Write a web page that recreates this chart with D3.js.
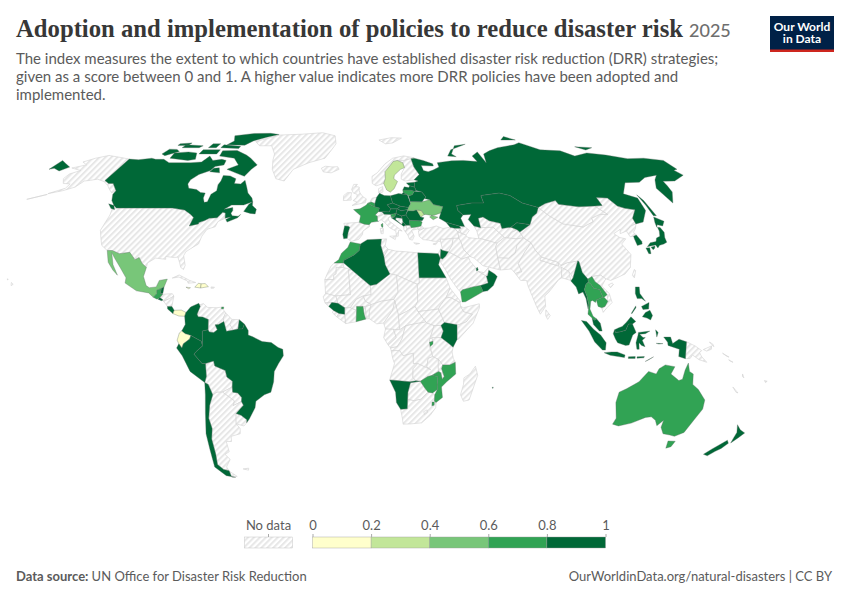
<!DOCTYPE html>
<html>
<head>
<meta charset="utf-8">
<script src="https://cdnjs.cloudflare.com/ajax/libs/d3/7.9.0/d3.min.js"></script>
<style>
  body { margin: 0; background: #fff; }
  text { font-family: Lato, sans-serif; }
</style>
</head>
<body>
<svg id="map-chart" width="850" height="600"></svg>
<script>
// score per country (one value per country)
const scoreCountries = ["Canada","Brazil","French Guiana","Colombia","Peru","Chile","Russia","Kazakhstan","Kyrgyzstan","Georgia","Germany","Poland","Czechia","Austria","Hungary","Slovakia","Romania","Serbia","Croatia","Montenegro","Belarus","Latvia","Estonia","Portugal","Algeria","Egypt","Jordan","Qatar","Oman","Guinea","Kenya","Namibia","Mauritius","Myanmar","Japan","South Korea","Indonesia","Malaysia","Philippines","New Zealand","Costa Rica","El Salvador","Belize",
  "France","Belgium","Slovenia","Bulgaria","Lithuania","Morocco","Yemen","Ghana","Burundi","Zimbabwe","Mozambique","Eswatini","Thailand","Laos","Cambodia","Australia","Guatemala","Trinidad",
  "Mexico","Ukraine",
  "Sweden","Moldova",
  "Ecuador","Panama","Haiti","Dominican Republic","Jamaica"];
const scoreValues = [0.91,0.88,0.82,0.85,0.84,0.9,0.87,0.86,0.83,0.82,0.9,0.89,0.85,0.84,0.83,0.82,0.88,0.81,0.82,0.83,0.86,0.82,0.84,0.87,0.9,0.89,0.83,0.81,0.86,0.82,0.87,0.85,0.81,0.84,0.92,0.9,0.88,0.86,0.89,0.91,0.83,0.82,0.81,
  0.75,0.65,0.7,0.72,0.68,0.74,0.66,0.71,0.63,0.69,0.72,0.64,0.76,0.67,0.62,0.78,0.73,0.66,
  0.55,0.48,
  0.33,0.28,
  0.15,0.12,0.1,0.18,0.16];

// rough country outlines, as lists of [lon, lat] rings
const outlines = {
  "Canada": [
    [[-141,69.6],[-135,69.3],[-128,70],[-125,69.5],[-120,69.5],[-115,68],[-108,68],[-102,68],[-96,68.3],[-94,71],[-90,69],[-85,69.5],[-82,69],[-81.5,67],[-86,66.3],[-87,64.5],[-92,62.8],[-94.5,60.5],[-94.5,58.8],[-92.5,57],[-88,56.5],[-85,55.3],[-82.3,55],[-82,53],[-80.5,51.3],[-79,51.5],[-79,54.5],[-77,56],[-78,58.5],[-77.5,60],[-78,62.4],[-74,62.2],[-70,61],[-69.5,59],[-66,58.8],[-64.5,60.3],[-62,57.5],[-60,55],[-57,53],[-56,51.5],[-60,50.2],[-66,50.2],[-69,48.5],[-65,49.2],[-64.5,48],[-65,47],[-64,46],[-61,45.8],[-60,46.5],[-61,45.2],[-65.5,43.5],[-66.5,44.5],[-64.5,45.5],[-67,45],[-67.8,47.1],[-69.2,47.4],[-71,45.2],[-74.7,45],[-76.5,44.1],[-79,43.3],[-79,42.8],[-83,42],[-82.5,45.3],[-84.5,46.5],[-88.5,48.2],[-95,49],[-123,49],[-125,50],[-128,52],[-130,54.5],[-130,56],[-135,59],[-137.5,59],[-141,60.2]],
    [[-80,73.7],[-72,71.5],[-68,70],[-62,67],[-64,65],[-66,62],[-72,63.5],[-78,65],[-73,67],[-78,70],[-88,71],[-89,73.5]],
    [[-117,70],[-105,69],[-101,69.5],[-104,72.5],[-110,73],[-118,72.5]],
    [[-125,72],[-122,71.2],[-116,73.2],[-119,74.2],[-124,74.3]],
    [[-90,76.5],[-78,76.3],[-75,78.5],[-68,80.5],[-61,82.3],[-68,83.1],[-80,83],[-92,81.5],[-88,78.5]],
    [[-92,75],[-80,74.6],[-80,75.7],[-92,76.5]],
    [[-117,75],[-106,75],[-105,76],[-117,76.5]],
    [[-122,76.2],[-115,76.3],[-115,77.5],[-122,77]],
    [[-100,75],[-95,75],[-95,77],[-100,77]],
    [[-102,72],[-91,72],[-91,74],[-102,74]],
    [[-59,47.7],[-55.5,46.9],[-53,46.7],[-53,48.5],[-55.5,50],[-56,51.6],[-57.5,50.5]],
    [[-128.3,50.7],[-125,50],[-123.4,48.4],[-125.5,48.8]],
    [[-87,64],[-81,63.5],[-83,65.7],[-86,65.5]]
  ],
  "USA": [
    [[-123,49],[-95,49],[-88.5,48.2],[-84.5,46.5],[-82.5,45.3],[-83,42],[-79,42.8],[-79,43.3],[-76.5,44.1],[-74.7,45],[-71,45.2],[-69.2,47.4],[-67.8,47.1],[-67,45],[-70,43.7],[-70.5,41.7],[-74,40.7],[-75.5,38],[-76,35],[-78,33.9],[-81,32],[-81.5,30.5],[-80,26.8],[-80.4,25.2],[-81.8,26],[-82.8,28],[-84,30],[-85.5,29.8],[-89.5,30.2],[-89.3,29.1],[-94,29.6],[-97.2,27.7],[-97.2,26],[-99.5,27.5],[-101.5,29.8],[-103.2,29],[-106.5,31.8],[-111,31.3],[-114.8,32.5],[-117.1,32.5],[-120.5,34.5],[-122.5,37.5],[-124.3,40.3],[-124,46.3],[-124.7,48.4]],
    [[-141,69.6],[-148,70.4],[-156.5,71.3],[-162,70],[-166.5,68.3],[-162,67],[-165,66.3],[-168,65.6],[-161,64.5],[-165,63],[-165,61],[-162,59],[-158,58.8],[-158,57],[-164,54.8],[-158,56],[-153.5,57.5],[-152,60],[-149,60.3],[-146,60.8],[-141,59.8],[-137,58.2],[-134,56.5],[-131,55],[-130,56],[-135,59],[-137.5,59],[-141,60.2]],
    [[-164,54.5],[-172,52.5],[-165,54.2]],
    [[-156,20.2],[-155,19.5],[-155.8,19]],
    [[-158.2,21.6],[-157.7,21.4],[-158,21.2]]
  ],
  "Greenland": [[[-73,78.2],[-60,82],[-45,82.5],[-30,83.5],[-20,81.5],[-18,77],[-20,74],[-23,70],[-32,68],[-40,65],[-43,60],[-48,61],[-52,65],[-54,69],[-55,72],[-60,76],[-68,76]]],
  "Mexico": [[[-117.1,32.5],[-114.8,32.5],[-111,31.3],[-106.5,31.8],[-103.2,29],[-101.5,29.8],[-99.5,27.5],[-97.2,26],[-97.8,22.5],[-96,19],[-94.5,18.2],[-91.5,18.5],[-90.5,21],[-87,21.5],[-88,18.5],[-89.1,17.9],[-91,17.2],[-90.8,16],[-92.2,14.5],[-94.5,16.2],[-100,17],[-105.5,20],[-105.5,22],[-109,26],[-112.5,29.5],[-114.7,31.7],[-112.5,27],[-109.5,23],[-112,25],[-115,28]]],
  "Guatemala": [[[-92.2,14.5],[-90.8,16],[-91,17.2],[-89.1,17.9],[-89.2,15.9],[-88.2,15.7],[-89.3,14.4],[-90.5,13.8]]],
  "Belize": [[[-89.1,17.9],[-88,18.5],[-88.2,16],[-89.2,15.9]]],
  "El Salvador": [[[-90.1,13.8],[-89.3,14.4],[-87.8,13.5],[-88.5,13.2]]],
  "Honduras": [[[-89.3,14.4],[-88.2,15.7],[-84,15.9],[-83.2,15],[-85,14],[-87.5,13]]],
  "Nicaragua": [[[-87.5,13],[-85,14],[-83.2,15],[-83.7,11],[-85.7,11]]],
  "Costa Rica": [[[-85.7,11],[-83.7,11],[-82.6,9.5],[-83,8.2],[-85.5,10]]],
  "Panama": [[[-83,8.2],[-82.6,9.5],[-79.5,9.6],[-77.4,8.7],[-77.9,7.2],[-80.4,7.3]]],
  "Cuba": [[[-84.9,21.9],[-82,23.1],[-77,21],[-74.2,20.2],[-77.5,19.9],[-78,20.8],[-82,22.3]]],
  "Jamaica": [[[-78.3,18.4],[-76.3,18.2],[-77,17.8]]],
  "Haiti": [[[-74.4,18.4],[-73,19.9],[-71.7,19.7],[-71.8,18.1]]],
  "Dominican Republic": [[[-71.7,19.7],[-70,19.8],[-68.4,18.6],[-71,18.2],[-71.8,18.1]]],
  "Puerto Rico": [[[-67.2,18.5],[-65.7,18.4],[-66,18],[-67.2,18]]],
  "Trinidad": [[[-61.9,10],[-61,10.1],[-61,10.8],[-61.9,10.8]]],
  "Colombia": [[[-77.4,8.7],[-75.5,10.8],[-72,12.2],[-71.3,11],[-72.5,8],[-72,7],[-70,6.9],[-67.5,6],[-67.5,2],[-70,1.5],[-70,-4.2],[-70.5,-2.4],[-75,-0.2],[-77.5,0.5],[-79,1.5],[-77.5,4],[-77.9,7.2]]],
  "Venezuela": [[[-71.9,11.5],[-70,12.1],[-68,10.6],[-64,10.5],[-62,10.7],[-60,8.5],[-61,6.5],[-60.7,5.2],[-63,4],[-64.5,3.9],[-63.5,2],[-65,1],[-67,1.2],[-67.5,2],[-67.5,6],[-70,6.9],[-72,7],[-72.5,8],[-71.3,11]]],
  "Guyana": [[[-60,8.5],[-57.2,6],[-58,4],[-56.5,1.9],[-59.5,1.4],[-60.7,5.2],[-61,6.5]]],
  "Suriname": [[[-57.2,6],[-54,5.9],[-54.5,2.3],[-56.5,1.9],[-58,4]]],
  "French Guiana": [[[-54,5.9],[-51.7,4.2],[-52.5,2.3],[-54.5,2.3]]],
  "Ecuador": [[[-79,1.5],[-77.5,0.5],[-75,-0.2],[-75.5,-1.5],[-78.3,-3.4],[-79,-5],[-80.3,-3.4],[-81,-2],[-80,0.8]]],
  "Peru": [[[-80.3,-3.4],[-79,-5],[-78.3,-3.4],[-75.5,-1.5],[-75,-0.2],[-70.5,-2.4],[-70,-4.2],[-73,-6.5],[-73.8,-7.4],[-70.5,-11],[-69,-11],[-69,-16],[-70,-18.3],[-76,-14],[-79,-8],[-81.3,-5]]],
  "Brazil": [[[-51.7,4.2],[-50,1.7],[-50,0],[-48,-0.7],[-44,-2.5],[-40,-2.9],[-37,-4.8],[-35,-5.5],[-34.8,-8],[-37,-11],[-39,-14],[-39.5,-18],[-41,-22],[-44,-23],[-48,-25.5],[-48.7,-28],[-52,-32.3],[-53.5,-33.8],[-53.2,-32.6],[-55.5,-30.9],[-57.6,-30.2],[-53.8,-27],[-54.5,-25.6],[-54.2,-24],[-55.8,-22.3],[-58,-22],[-58,-20],[-57.7,-17.8],[-60,-16.2],[-60.5,-13.7],[-65,-11.9],[-65.4,-10],[-69,-11],[-70.5,-11],[-73.8,-7.4],[-73,-6.5],[-70,-4.2],[-70,1.5],[-67.5,2],[-67,1.2],[-65,1],[-63.5,2],[-64.5,3.9],[-63,4],[-60.7,5.2],[-59.5,1.4],[-56.5,1.9],[-54.5,2.3],[-52.5,2.3]]],
  "Bolivia": [[[-69,-11],[-65.4,-10],[-65,-11.9],[-60.5,-13.7],[-60,-16.2],[-57.7,-17.8],[-58,-20],[-62.5,-22],[-65,-22],[-67,-23],[-68.5,-19],[-70,-18.3],[-69,-16]]],
  "Paraguay": [[[-58,-20],[-58,-22],[-55.8,-22.3],[-54.2,-24],[-54.5,-25.6],[-58.5,-27.2],[-57.7,-25.3],[-62.5,-22]]],
  "Chile": [[[-70,-18.3],[-68.5,-19],[-67,-23],[-69,-27],[-70.5,-32],[-70,-36],[-71.5,-40],[-72,-46],[-73,-50],[-71,-52],[-68.5,-52.5],[-68.5,-55],[-66.5,-55.2],[-71,-54.5],[-75,-51],[-74,-44],[-73.5,-38],[-71.5,-30],[-70.3,-23]]],
  "Argentina": [
    [[-67,-23],[-65,-22],[-62.5,-22],[-57.7,-25.3],[-58.5,-27.2],[-54.5,-25.6],[-53.8,-27],[-57.6,-30.2],[-58.2,-33],[-58.4,-34.2],[-57,-36],[-57.5,-38],[-62,-39],[-62.5,-41],[-65,-41],[-65,-45],[-67.5,-46],[-65.8,-48],[-69,-51],[-68.5,-52.5],[-71,-52],[-73,-50],[-72,-46],[-71.5,-40],[-70,-36],[-70.5,-32],[-69,-27]],
    [[-68.5,-52.7],[-65.5,-54.8],[-68.5,-55]]
  ],
  "Uruguay": [[[-57.6,-30.2],[-55.5,-30.9],[-53.2,-32.6],[-53.5,-33.8],[-55,-35],[-58.4,-34.2],[-58.2,-33]]],
  "Falklands": [[[-61,-51.8],[-58,-51.5],[-58.5,-52.3]]],

  "Iceland": [[[-24,65.5],[-22,66.4],[-18,66.1],[-14.7,66.2],[-13.7,65],[-18,63.5],[-22.5,63.9]]],
  "UK": [[[-5.5,50],[1.2,51.2],[1.7,52.7],[0,53.5],[-1.5,55],[-2,56],[-2,57.5],[-4,57.7],[-3,58.6],[-5,58.6],[-6,56.5],[-5,55],[-3,54.5],[-3.2,53.4],[-5,52],[-3,51.4]]],
  "Ireland": [[[-6,52.2],[-6.2,53.8],[-6,55.2],[-8.2,55.2],[-10,54],[-10,52]]],
  "France": [
    [[-1.8,43.4],[-1.2,46],[-4.7,48.4],[-1.5,48.7],[1.5,50.1],[2.5,51],[4.2,50],[6,49.5],[8.2,49],[7.6,47.6],[6,46.3],[7,45.8],[7,44],[7.5,43.8],[4,43.4],[3,42.5],[0.7,42.7]],
    [[8.6,42.5],[9.5,43],[9.5,41.5],[9,41.5]]
  ],
  "Spain": [[[-8.8,42],[-9.2,43],[-1.8,43.4],[0.7,42.7],[3,42.5],[3.2,41.8],[0,40],[-0.3,38.6],[-2,36.8],[-5.5,36],[-7.4,37.2],[-7,39.5],[-6.3,41.5],[-7,41.9]]],
  "Portugal": [[[-8.8,42],[-7,41.9],[-6.3,41.5],[-7,39.5],[-7.4,37.2],[-9,37],[-9.5,38.7]]],
  "Belgium": [[[2.5,51],[4.2,51.4],[6,50.8],[6,49.5],[4.2,50]]],
  "Netherlands": [[[3.5,51.4],[4.7,53],[7,53.3],[6,50.8],[4.2,51.4]]],
  "Germany": [[[6,50.8],[7,53.3],[8.6,54.9],[11,54],[14.2,53.9],[15,51],[12.2,50.3],[13.8,48.7],[13,47.5],[7.6,47.6],[8.2,49],[6,49.5]]],
  "Denmark": [[[8.2,55],[8.2,56.8],[10.5,57.7],[10.5,55.5],[8.6,54.9]]],
  "Switzerland": [[[6,46.3],[7.6,47.6],[9.5,47.5],[10.4,46.6],[8.5,46],[7,45.8]]],
  "Austria": [[[9.5,47.5],[13,47.5],[13.8,48.7],[17,48.7],[16.2,46.9],[13.7,46.5],[10.4,46.6]]],
  "Italy": [
    [[7,44],[7,45.8],[8.5,46],[10.4,46.6],[13.7,46.5],[13.7,45.6],[12.3,45.2],[12.5,44],[16,41.7],[18.5,40],[16.9,40.4],[16.5,38],[15.7,38],[15.5,40],[12.5,41.4],[10.3,43.5],[8.8,44.4],[7.5,43.8]],
    [[12.5,38],[15.6,38.2],[15,36.7]],
    [[8.2,41],[9.7,41],[9.5,39],[8.5,39]]
  ],
  "Czechia": [[[12.2,50.3],[15,51],[18.8,49.7],[17,48.7],[13.8,48.7]]],
  "Poland": [[[14.2,53.9],[18.5,54.8],[23,54.3],[24,50.7],[22.7,49.2],[18.8,49.7],[15,51]]],
  "Slovakia": [[[17,48.7],[18.8,49.7],[22.7,49.2],[22.2,48.4],[18.8,47.9]]],
  "Hungary": [[[16.2,46.9],[17,48.7],[18.8,47.9],[22.2,48.4],[21,46.3],[18.8,45.9]]],
  "Slovenia": [[[13.7,46.5],[16.2,46.9],[15.5,45.5],[13.7,45.6]]],
  "Croatia": [[[13.7,45.2],[15.5,45.5],[16.2,46.9],[18.8,45.9],[19,45],[16,45.2],[15.8,44.5],[18.5,42.5],[15,44.5]]],
  "Bosnia": [[[16,45.2],[19,45],[19.3,43.5],[18.5,42.5],[15.8,44.5]]],
  "Serbia": [[[18.8,45.9],[21,46.3],[22.5,44.5],[22.5,42.3],[20.5,42.3],[19.3,43.5],[19,45]]],
  "Montenegro": [[[18.5,42.5],[19.3,43.5],[20.5,42.3],[19.3,41.9]]],
  "Albania": [[[19.3,41.9],[20.5,42.3],[21,40.8],[20,39.7],[19.4,40.5]]],
  "North Macedonia": [[[20.5,42.3],[22.5,42.3],[23,41.3],[21,40.8]]],
  "Greece": [
    [[21,40.8],[23,41.3],[26.3,41.7],[26,40.8],[23,40.3],[24,38],[23,36.5],[21.7,36.8],[21,38.5],[20,39.7]],
    [[23.5,35.5],[26.2,35.2],[24.5,34.9]]
  ],
  "Bulgaria": [[[22.5,44.2],[27.5,44],[28.5,43.5],[27.7,42],[26.3,41.7],[23,41.3],[22.5,42.3]]],
  "Romania": [[[21,46.3],[22.2,48],[24.8,47.9],[26.6,48.3],[28.2,45.5],[29.7,45.2],[28.6,44],[27.5,44],[22.5,44.2]]],
  "Moldova": [[[26.6,48.3],[29,48],[30,46.4],[28.2,45.5]]],
  "Ukraine": [[[22.2,48.4],[22.7,49.2],[24,50.7],[24,51.6],[30,51.5],[34,52.3],[35.5,50.4],[40,49.6],[38.3,47.1],[35,46.2],[33.6,46.1],[36.5,45.4],[34,44.4],[32.5,45.5],[33.6,46.1],[30.8,46.5],[30,46.4],[29,48],[26.6,48.3],[24.8,47.9],[22.2,48]]],
  "Belarus": [[[24,51.6],[23.5,53.9],[25.5,54.3],[27,55.8],[30.8,55.5],[32.5,53.4],[31.5,52.8],[30,51.5]]],
  "Lithuania": [[[21,55.3],[21,56.3],[25,56.3],[27,55.8],[25.5,54.3],[23.5,53.9],[23,54.3]]],
  "Latvia": [[[21,56.3],[22,57.6],[24.4,57.3],[25,58],[27.5,57.5],[28,56.1],[27,55.8],[25,56.3]]],
  "Estonia": [[[23.5,59.2],[28,59.5],[27.5,57.5],[25,58],[24.4,58.4]]],
  "Sweden": [[[11.2,59],[12.5,56.3],[14.3,55.4],[16.5,56.8],[18.8,59.8],[17,61],[17.5,62.5],[21.5,65],[24,65.8],[23.5,68],[20.5,69],[18,68.5],[15,66],[12.5,64],[12.3,61]]],
  "Norway": [[[5,59],[7,58],[11.2,59],[12.3,61],[12.5,64],[15,66],[18,68.5],[20.5,69],[25,69],[29,69.8],[31,70.2],[25,71.1],[18,70],[13,67.5],[8,63.5],[5,62]]],
  "Finland": [[[21,60.8],[23,60],[28,60.5],[31.5,62.8],[29.5,66],[29,69.8],[25,69],[20.5,69],[23.5,68],[24,65.8],[21.5,63]]],
  "Svalbard": [[[11,79],[20,80.3],[27,80],[20,77.5],[15,77]]],
  "Turkey": [
    [[26.3,38],[26.2,40],[29,41.1],[31.5,41.2],[35,42],[38,41],[41.5,41.5],[43.5,41.1],[44.7,39.7],[44.8,37.2],[42,37.2],[38,36.8],[36,36.9],[36,36],[32.5,36.1],[30.5,36.5],[28,36.7]],
    [[26.3,41.7],[28,42],[29,41.1],[26.2,40.4]]
  ],
  "Cyprus": [[[32.3,35],[34.5,35.6],[33.5,34.7]]],
  "Georgia": [[[40,43.4],[46,42],[46.5,41.1],[43.5,41.1],[41.5,41.5]]],
  "Armenia": [[[43.5,41.1],[45.5,41],[46.5,39],[44.7,39.7]]],
  "Azerbaijan": [[[45.5,41],[46.5,41.1],[46,42],[48.5,41.8],[50.3,40.3],[49,39],[48.2,38.5],[46.5,39]]],

  "Russia": [
    [[28,59.5],[30,60],[28,60.5],[31.5,62.8],[29.5,66],[29,69.8],[31,70],[36,69],[41,67.5],[41,66.5],[34,66.7],[34.5,64.5],[37,64],[40,64.7],[44,66],[44,68],[53,68.8],[60,69],[68,68.5],[67,71],[72,73],[73,68],[75,72],[80,73.5],[87,75],[100,76.5],[105,77.6],[113,74],[125,73.5],[130,71],[140,72.5],[150,71.5],[160,69.8],[170,70],[180,69],[180,65],[177.5,64.6],[179,62.5],[170,60],[163.5,59.9],[163,58],[162,55.5],[156.7,51],[155.7,57],[160,60.5],[164,62.5],[156,61.5],[150,59.5],[142,59.3],[135.5,54.7],[141,53],[140,48],[135,43.5],[131,42.8],[131,45],[135,48.3],[130.5,48.9],[127.5,49.8],[125.5,53],[120,53.2],[120,50],[116,49.8],[108,49.5],[98.5,50.5],[98,52],[92,50.8],[87.5,49.2],[80.5,51],[76,54],[71,55],[61,54],[61,51],[55,51],[47,50],[47,48],[49,46.3],[47.5,45],[48.5,41.8],[46,42],[40,43.4],[37,45],[38.3,47.1],[40,49.6],[35.5,50.4],[34,52.3],[31.5,52.8],[32.5,53.4],[30.8,55.5],[28,56.1],[27.5,57.5]],
    [[-180,69],[-175,67.5],[-170,66],[-173,64.3],[-178,65.5],[-180,65]],
    [[52,71],[56,74],[68,76.8],[60,76],[55,72],[57,70.7]],
    [[95,79],[105,79],[100,81]],
    [[138,75.5],[148,75],[142,73.9]],
    [[142,54.3],[143,52],[143.5,46],[142,46],[142,50]],
    [[20,54.4],[22.8,54.4],[21,55.3]]
  ],
  "Kazakhstan": [[[47,50],[55,51],[61,51],[61,54],[71,55],[76,54],[80.5,51],[87.5,49.2],[85.5,47],[82.5,45.5],[80,42.5],[74,43.2],[70.5,41.5],[66,41],[66,43],[61,44],[58.5,45.5],[56,45],[56,41.3],[53,42],[51,44.5],[53,46.5],[49,46.3],[47,48]]],
  "Uzbekistan": [[[56,41.3],[56,45],[58.5,45.5],[61,44],[66,43],[66,41],[70.5,41.5],[73,40.5],[70,39.5],[67.5,37.3],[66,37.5],[62,41.5]]],
  "Turkmenistan": [[[53,42],[56,41.3],[62,41.5],[66,37.5],[62,35.3],[54,37.3],[53.8,40]]],
  "Kyrgyzstan": [[[70.5,41.5],[74,43.2],[80,42.5],[74,39.6],[73,40.5]]],
  "Tajikistan": [[[67.5,37.3],[70,39.5],[73,40.5],[74,39.6],[75,37.4],[71.5,37]]],
  "Afghanistan": [[[62,35.3],[66,37.5],[67.5,37.3],[71.5,37],[75,37.4],[71,34.5],[69.5,31.5],[66,29.5],[61,29.7],[61,34]]],
  "Pakistan": [[[61,29.7],[66,29.5],[69.5,31.5],[71,34.5],[75,37.4],[77.8,35.5],[74,32],[70,27.5],[71,24.3],[68,23.7],[66.5,25.4],[61.5,25]]],
  "Iran": [[[44.7,39.7],[46.5,39],[48.2,38.5],[49,37.5],[54,37],[54,37.3],[62,35.3],[61,34],[61,29.7],[61.5,25],[57,26],[54,26.6],[50.5,29.5],[48.7,30.2],[46,33],[45.5,35.5],[44.8,37.2]]],
  "Iraq": [[[42,37.2],[44.8,37.2],[45.5,35.5],[46,33],[48.7,30.2],[47.7,30],[44.8,29.2],[39,32],[41,34.5]]],
  "Syria": [[[36,36],[36,36.9],[38,36.8],[42,37.2],[41,34.5],[39,32],[36.5,32.5]]],
  "Israel": [[[34.3,31.3],[35.7,33.2],[35.7,33],[35,29.5]]],
  "Jordan": [[[35.7,33],[36.5,32.5],[39,32],[37.5,30.3],[36,29.2],[35,29.5]]],
  "Saudi Arabia": [[[35,29.5],[36,29.2],[37.5,30.3],[39,32],[44.8,29.2],[47.7,30],[48.5,28.3],[50,26.5],[51.5,24.5],[55,22.7],[55.5,20],[52,19],[49,18.6],[44,17.4],[43,16.6],[42,17.5],[39,21.5],[37,25],[35,28]]],
  "Yemen": [[[43,16.6],[44,17.4],[49,18.6],[52,19],[53,16.7],[45,12.8],[43.5,12.7]]],
  "Oman": [[[52,19],[55.5,20],[55,22.7],[55.5,22.7],[56.3,24.9],[58.8,23.5],[59.8,22.5],[57.7,19],[55,17],[53,16.7]]],
  "UAE": [[[51.5,24.5],[54,24],[56.3,26],[56.3,24.9],[55.5,22.7],[55,22.7]]],
  "Qatar": [[[50.8,24.6],[51.6,25],[51.3,26.1],[50.8,25.6]]],
  "India": [[[68,23.7],[71,24.3],[70,27.5],[74,32],[77.8,35.5],[79,32.5],[81,30],[80,28.8],[88,26.5],[88,28],[89,26.8],[92,27.8],[97,28.5],[95,25],[93.5,22],[92,24.5],[89,26],[88.5,22],[87,21.3],[82,16.5],[80,15],[80,11],[77.5,8],[76,11],[73,19],[72.7,21],[70,21]]],
  "Nepal": [[[80,28.8],[81,30],[88,28],[88,26.5]]],
  "Bangladesh": [[[88.5,22],[89,26],[92,24.5],[92.3,21]]],
  "Sri Lanka": [[[80,9.7],[81.8,7.5],[80.6,6],[79.8,7.5]]],
  "China": [
    [[74,39.6],[80,42.5],[82.5,45.5],[85.5,47],[87.5,49.2],[91,46],[96,42.8],[105,41.6],[111,43.7],[111,45],[116,46.5],[120,46.5],[116,49.8],[120,50],[120,53.2],[125.5,53],[127.5,49.8],[130.5,48.9],[135,48.3],[131,45],[131,42.8],[128,42],[124.5,40],[121,39],[122,40.7],[118,39],[120,37.5],[122.5,37],[119.5,35],[122,31],[120,26],[117,23.5],[113,22],[110,21],[108,21.6],[106,23],[102,22.5],[100,21.5],[98,24],[97.5,28.3],[97,28.5],[92,27.8],[89,26.8],[88,28],[81,30],[79,32.5],[77.8,35.5],[75,37.4]],
    [[108.7,19.3],[110.5,20],[111,19.5],[109.5,18.2]]
  ],
  "Taiwan": [[[120.1,23],[121.5,25.2],[122,24.8],[120.8,22]]],
  "Mongolia": [[[87.5,49.2],[92,50.8],[98,52],[98.5,50.5],[108,49.5],[116,49.8],[120,46.5],[116,46.5],[111,45],[111,43.7],[105,41.6],[96,42.8],[91,46]]],
  "North Korea": [[[124.5,40],[128,42],[131,42.8],[129.5,41],[127.5,39.5],[128.3,38.5],[126.7,38],[125,37.8]]],
  "South Korea": [[[126.7,38],[128.3,38.5],[129.4,36],[129,35],[126.5,34.4],[126.5,37]]],
  "Japan": [
    [[130.9,34],[133,35.5],[136,36],[137,37.3],[139,38],[140,40],[140.3,41.5],[141.5,41.4],[142,39.5],[141,37.5],[140.8,35.7],[139,35],[136.8,34.5],[135.5,33.5],[135,34.6],[132.5,34.2]],
    [[140,41.5],[140.5,43.3],[141.7,45.5],[145.3,43.8],[143.2,42],[141,42.5]],
    [[130,33.5],[131.8,33.6],[131.3,31.3],[130.3,31.3]],
    [[132.5,33.8],[134.5,34.2],[134,33.4],[133,32.8]]
  ],
  "Myanmar": [[[92.3,20.8],[93.5,22],[95,25],[97,28.5],[97.5,28.3],[98,24],[100,21.5],[100,20.4],[98.8,19.5],[97.8,17.5],[98.5,15],[99,11.5],[98.5,10],[98,14],[97,16.5],[95,15.8],[94.3,18.5]]],
  "Thailand": [[[98.8,19.5],[100,20.4],[101,19.5],[102,18],[104.5,17.5],[105.5,14.5],[102.5,13.5],[102,12.5],[100.8,13.3],[100,13],[99.3,10],[100.5,7.2],[102,6.2],[101,5.7],[100,6.5],[98.3,8],[99,11.5],[98.5,15],[97.8,17.5]]],
  "Laos": [[[100,20.4],[100,21.5],[102,22.5],[103,20.5],[105,19],[107.5,15.5],[106,14.5],[105.5,14.5],[104.5,17.5],[102,18],[101,19.5]]],
  "Cambodia": [[[102.5,13.5],[105.5,14.5],[106,14.5],[107.5,13],[106,11],[104.5,10.5],[103,11]]],
  "Vietnam": [[[102,22.5],[106,23],[108,21.6],[105.7,18.8],[108.5,16],[109.3,12.5],[106.8,10.5],[105,8.7],[104.5,10.5],[106,11],[107.5,13],[107.5,15.5],[105,19],[103,20.5]]],
  "Malaysia": [
    [[100,6.5],[101,5.7],[102,6.2],[103.5,4.5],[104.2,1.5],[103,1.5],[100.5,4]],
    [[109.6,2],[111.5,2.8],[113,3.3],[115,5],[117,7],[119,5.2],[117.5,4.2],[115.8,4.2],[114.5,1.8],[112,1.2],[110,1]]
  ],
  "Indonesia": [
    [[109,0.5],[109.6,2],[110,1],[112,1.2],[114.5,1.8],[115.8,4.2],[117.5,4.2],[119,1],[117.5,0],[116,-3.8],[114.5,-4],[111,-3],[110,-1.5]],
    [[95.3,5.6],[97.5,5.2],[100.5,2.2],[103.5,0],[106,-3],[105.8,-5.8],[104.5,-5.8],[101,-2.7],[98.5,1.5]],
    [[105.3,-6.8],[108.5,-6.5],[111,-6.5],[114.5,-7.7],[114.3,-8.7],[108,-7.8]],
    [[120,1],[125,1.5],[123,0.5],[120.5,0.3],[122,-1],[123,-1],[121.7,-2],[123,-4.5],[121.5,-4],[120.3,-3],[120.5,-5.5],[119.5,-5.5],[119,-3],[119.8,0]],
    [[116,-8.4],[119,-8.3],[119,-9],[116,-9]],
    [[119.8,-8.4],[123,-8.3],[122.8,-8.8],[119.8,-8.9]],
    [[123.5,-10.2],[127,-8.4],[125,-9.5]],
    [[127.5,2],[128.6,1],[128,-0.8],[127.7,0.8]],
    [[127.8,-3.2],[130.8,-3.3],[129,-3.5]],
    [[131,-0.8],[134,-0.8],[135,-3.3],[137.7,-1.6],[141,-2.6],[141,-9.1],[138,-8.3],[138,-5.5],[133,-4],[132.8,-2.8]]
  ],
  "Papua New Guinea": [
    [[141,-2.6],[145,-4.3],[147.8,-6],[147,-6.8],[148,-8.3],[150.5,-10.5],[147,-9.5],[144,-7.7],[143,-9.1],[141,-9.1]],
    [[148.5,-5.6],[152,-4.2],[152,-5.5],[150,-6.2]],
    [[151,-2.7],[153,-4.5],[152.5,-3.5]]
  ],
  "Solomon Islands": [[[157,-7],[160,-8.5],[159,-8.2]],[[160,-9.5],[162,-10.5],[160.5,-10]]],
  "Vanuatu": [[[167,-15],[168,-16.5],[167.2,-16]]],
  "New Caledonia": [[[164,-20],[167,-22.3],[166,-22]]],
  "Fiji": [[[177.3,-17.5],[178.6,-17.8],[178,-18.3]]],
  "Philippines": [
    [[120.5,18.5],[122.2,18.5],[122,16],[124,13],[122.5,14],[120.5,14],[120,16]],
    [[122,7],[123.5,8.7],[125.5,9.5],[126.5,7.5],[125.5,5.8],[124,6.5]],
    [[122,11],[125.5,12.5],[125,10],[122.5,9.8]],
    [[117.3,8.4],[119.5,11.2],[119.5,10.5],[117.5,8.2]]
  ],
  "Australia": [
    [[114,-22],[113.5,-26],[115.7,-32],[115,-34.3],[118,-35],[123.5,-33.9],[129,-31.7],[131.5,-31.5],[134,-32.8],[135.7,-34.9],[137.8,-32.8],[138,-35.5],[140.5,-38],[144,-38.5],[146.5,-39],[150,-37.5],[151.5,-33],[153.5,-28.5],[153,-25],[149,-21],[146,-19],[145.3,-15],[143.5,-14],[142.5,-10.8],[141.5,-13.5],[141,-17],[139.5,-17.5],[135.5,-15],[136.8,-12.2],[132.5,-11.5],[130,-13],[129,-15],[125.5,-14],[122,-18],[117,-20.7]],
    [[144.8,-40.8],[148.3,-40.9],[148,-43],[146,-43.6]]
  ],
  "New Zealand": [
    [[172.7,-34.5],[175.5,-36.5],[178.5,-37.7],[177,-39.5],[175.3,-41.6],[174.8,-39.5],[174.7,-37.5]],
    [[172.7,-40.5],[174.3,-41.7],[172.8,-43.7],[171,-44.8],[169,-46.6],[166.5,-46],[168.5,-44],[171,-42]]
  ],

  "Morocco": [[[-5.9,35.8],[-1.2,35],[-1.7,32.5],[-4,30.8],[-8.7,28.7],[-8.7,27.7],[-13,27.7],[-11,29],[-9.8,31.5],[-7,33.7]]],
  "Western Sahara": [[[-13,27.7],[-8.7,27.7],[-8.7,26],[-12,26],[-12,23.5],[-13,23],[-13,21.3],[-17,21.3],[-16,23.5],[-14.5,26.3]]],
  "Algeria": [[[-1.2,35],[2,36.7],[8.6,36.9],[8.2,34.5],[9.5,30.2],[10,27],[12,23.5],[6,19.5],[3.2,19],[-5,25],[-8.7,27.7],[-8.7,28.7],[-4,30.8],[-1.7,32.5]]],
  "Tunisia": [[[8.6,36.9],[11,37],[10.2,34.3],[11.5,33],[9.5,30.2],[8.2,34.5]]],
  "Libya": [[[11.5,33],[15,32.3],[20,32],[25,31.6],[25,20],[24,19.5],[15,23],[12,23.5],[10,27],[9.5,30.2]]],
  "Egypt": [[[25,31.6],[31,31.5],[34.3,31.3],[35,29.5],[34,27],[37,22],[25,22]]],
  "Sudan": [[[25,22],[37,22],[38.5,18],[36.5,14.3],[34,11.5],[33,10],[29,9.5],[24,9],[22.8,11],[24,13],[24,19.5],[25,20]]],
  "South Sudan": [[[24,9],[29,9.5],[33,10],[34,8],[35.5,4.8],[34,3.7],[31,3.6],[28,4.5],[27.4,5]]],
  "Mauritania": [[[-17,21.3],[-13,21.3],[-13,23],[-12,23.5],[-12,26],[-8.7,26],[-5,25],[-6.5,25],[-5.5,15.5],[-12,15],[-16.5,16]]],
  "Mali": [[[-12,15],[-5.5,15.5],[-6.5,25],[-5,25],[3.2,19],[3.6,15.5],[0,15],[-3,13.7],[-5.5,10.5],[-8,10.5],[-11,12.2]]],
  "Niger": [[[3.2,19],[6,19.5],[12,23.5],[15,23],[15.5,16.5],[13.5,13.7],[8,13],[3.6,11.7],[1,13],[0,15],[3.6,15.5]]],
  "Chad": [[[15,23],[24,19.5],[24,13],[22.8,11],[19,9],[15.5,7.5],[14,13],[13.5,13.7],[15.5,16.5]]],
  "Senegal": [[[-16.5,16],[-12,15],[-11,12.2],[-13.7,12.5],[-16.7,12.4],[-17.5,14.7]]],
  "Guinea": [[[-13.7,12.5],[-11,12.2],[-8,10.5],[-8,8],[-10.5,8.3],[-13,9.5],[-15,11]]],
  "Guinea-Bissau": [[[-16.7,12.4],[-13.7,12.5],[-15,11]]],
  "Sierra Leone": [[[-13,9.5],[-10.5,8.3],[-11.5,7],[-13.3,8.5]]],
  "Liberia": [[[-11.5,7],[-10.5,8.3],[-8,8],[-7.5,4.4]]],
  "Cote d'Ivoire": [[[-7.5,4.4],[-8,8],[-8,10.5],[-5.5,10.5],[-2.8,9.5],[-3,5.1]]],
  "Ghana": [[[-3,5.1],[-2.8,9.5],[-2.8,11],[0,11],[0.5,8],[1.2,6.1]]],
  "Togo": [[[0,11],[1,11],[1.5,6.2],[1.2,6.1],[0.5,8]]],
  "Benin": [[[1,11],[3.6,11.7],[2.8,9],[2.7,6.3],[1.5,6.2]]],
  "Burkina Faso": [[[-5.5,10.5],[-3,13.7],[0,15],[1,13],[3.6,11.7],[1,11],[0,11],[-2.8,11],[-2.8,9.5]]],
  "Nigeria": [[[2.7,6.3],[2.8,9],[3.6,11.7],[8,13],[13.5,13.7],[14,13],[13,9.5],[9,4.6],[6,4.3]]],
  "Cameroon": [[[9,4.6],[13,9.5],[14,13],[15.5,7.5],[16,2],[9.8,2.3]]],
  "Central African Republic": [[[15.5,7.5],[19,9],[22.8,11],[24,9],[27.4,5],[22,4.2],[18.5,3.5],[16,2]]],
  "Gabon": [[[9.8,2.3],[13.3,2.2],[14.5,-1],[11,-3.9],[9,-1]]],
  "Congo": [[[13.3,2.2],[16,2],[18.5,3.5],[17,-1.5],[15,-4.5],[12,-5],[11,-3.9],[14.5,-1]]],
  "DR Congo": [[[18.5,3.5],[22,4.2],[27.4,5],[28,4.5],[31,3.6],[29.5,-0.5],[29,-4.5],[30.5,-8.3],[28.5,-9],[28,-12.3],[29.8,-13.4],[24,-11],[22,-11],[22,-7],[17.5,-8],[16,-6],[12.3,-6],[12,-5],[15,-4.5],[17,-1.5]]],
  "Angola": [[[12.3,-6],[16,-6],[17.5,-8],[22,-7],[22,-11],[24,-11],[22,-13],[22,-16.3],[23.4,-17.6],[20.8,-18],[13.5,-17.4],[11.8,-17.3],[13.8,-11],[13,-9]]],
  "Uganda": [[[31,3.6],[34,3.7],[35,1.5],[34,-1],[30,-1],[29.5,-0.5]]],
  "Kenya": [[[34,3.7],[35.5,4.8],[41,3.9],[41,-1.7],[39.3,-4.7],[37.7,-3.5],[34,-1],[35,1.5]]],
  "Rwanda": [[[29,-1.4],[30.5,-1.2],[30.5,-2.4],[29,-2.8]]],
  "Burundi": [[[29,-2.8],[30.5,-2.4],[30.5,-3.5],[29.3,-4.4]]],
  "Tanzania": [[[30,-1],[34,-1],[37.7,-3.5],[39.3,-4.7],[38.9,-6.5],[39.5,-9],[40.4,-10.5],[38,-11.5],[34.9,-11.5],[33,-9.4],[30.5,-8.3],[29.3,-4.4],[30.5,-2.4]]],
  "Ethiopia": [[[33,10],[34,11.5],[36.5,14.3],[38.5,14.5],[42.5,12.5],[42.8,11],[44,9],[47.9,8],[45,5],[41.9,4],[41,3.9],[35.5,4.8],[34,8]]],
  "Eritrea": [[[36.5,14.3],[38.5,18],[43,12.7],[42.5,12.5],[38.5,14.5]]],
  "Somalia": [[[42.8,11],[44,10.5],[51,12],[51,10.5],[48,4.5],[41.5,-1.7],[41,-1.7],[41,3.9],[41.9,4],[45,5],[47.9,8],[44,9]]],
  "Zambia": [[[22,-13],[24,-11],[29.8,-13.4],[28,-12.3],[28.5,-9],[30.5,-8.3],[33,-9.4],[33,-12],[33.2,-14],[30.2,-15.6],[28.5,-16],[25.3,-17.8],[23.4,-17.6],[22,-16.3]]],
  "Malawi": [[[33,-9.4],[34.9,-11.5],[34.5,-13],[35.8,-16],[35,-17],[34.2,-14.5],[33.2,-14],[33,-12]]],
  "Mozambique": [[[34.9,-11.5],[38,-11.5],[40.4,-10.5],[40.8,-15],[37,-18],[34.8,-20],[35.5,-24],[32.8,-26],[32,-25.5],[32,-23],[33,-21],[32.8,-19],[33,-16],[30.2,-15.6],[33.2,-14],[34.2,-14.5],[35,-17],[35.8,-16],[34.5,-13]]],
  "Zimbabwe": [[[25.3,-17.8],[28.5,-16],[30.2,-15.6],[33,-16],[32.8,-19],[33,-21],[31,-22.3],[29,-22],[27.5,-20.5]]],
  "Botswana": [[[20,-22],[21,-18.4],[25.3,-17.8],[27.5,-20.5],[29,-22],[26,-24.7],[23,-25.3],[20,-24.8]]],
  "Namibia": [[[11.8,-17.3],[13.5,-17.4],[20.8,-18],[23.4,-17.6],[25.3,-17.8],[21,-18.4],[20,-22],[20,-28.4],[17,-28.6],[15,-26],[14.5,-22]]],
  "South Africa": [[[17,-28.6],[20,-28.4],[20,-24.8],[23,-25.3],[26,-24.7],[29,-22],[31,-22.3],[32,-23],[32,-25.5],[32.8,-26],[32.8,-28],[30.5,-31],[27,-33.8],[22,-34.2],[18.5,-34.3],[18,-32]]],
  "Lesotho": [[[27.5,-29.5],[29,-28.8],[29.3,-29.8],[28,-30.6]]],
  "Eswatini": [[[31,-25.8],[32,-25.8],[32,-27],[31,-27.2]]],
  "Madagascar": [[[49.3,-12],[50.5,-15.5],[47.5,-25],[45,-25.5],[43.5,-23],[44.5,-19],[44.5,-16.5],[47,-15]]],
  "Mauritius": [[[57.3,-20.1],[57.8,-20.1],[57.6,-20.6]]]
};

// legend bins
const binEdges = [0, 0.2, 0.4, 0.6, 0.8, 1];
const binColors = ["#ffffcc", "#c2e699", "#78c679", "#31a354", "#006837"];

const titleText = "Adoption and implementation of policies to reduce disaster risk";
const yearText = "2025";
const subtitleLines = [
  "The index measures the extent to which countries have established disaster risk reduction (DRR) strategies;",
  "given as a score between 0 and 1. A higher value indicates more DRR policies have been adopted and",
  "implemented."
];

const svg = d3.select("#map-chart");
const color = d3.scaleThreshold().domain(binEdges.slice(1, -1)).range(binColors);
const scoreOf = new Map(scoreCountries.map((c, i) => [c, scoreValues[i]]));

// hatch used for countries with no data
const pattern = svg.append("defs").append("pattern")
    .attr("id", "no-data")
    .attr("patternUnits", "userSpaceOnUse")
    .attr("width", 4.2).attr("height", 4.2)
    .attr("patternTransform", "rotate(45)");
pattern.append("rect").attr("width", 4.2).attr("height", 4.2).attr("fill", "#fff");
pattern.append("line").attr("x1", 1).attr("x2", 1).attr("y1", 0).attr("y2", 4.2)
    .attr("stroke", "#e7e7e7").attr("stroke-width", 2);

// Robinson projection, d3 core does not ship it so it is built with geoProjection
const plen = [1,.9986,.9954,.99,.9822,.973,.96,.9427,.9216,.8962,.8679,.835,.7986,.7597,.7186,.6732,.6213,.5722,.5322];
const pdfe = [0,.062,.124,.186,.248,.31,.372,.434,.4958,.5571,.6176,.6769,.7346,.7903,.8435,.8936,.9394,.9761,1];
function robinsonRaw(lambda, phi) {
    let deg = Math.min(Math.abs(phi) * 180 / Math.PI, 89.999) / 5;
    let i = Math.floor(deg), t = deg - i;
    let len = plen[i] + (plen[i + 1] - plen[i]) * t;
    let dfe = pdfe[i] + (pdfe[i + 1] - pdfe[i]) * t;
    return [0.8487 * len * lambda, 1.3523 * dfe * Math.sign(phi)];
}
const projection = d3.geoProjection(robinsonRaw).scale(155).translate([363, 335]);

// outlines are coarse so treat them as flat shapes, no great arcs between the points
const path = d3.geoPath(d3.geoTransform({
    point: function (x, y) {
        let p = projection([x, y]);
        this.stream.point(p[0], p[1]);
    }
}));

const features = Object.keys(outlines).map(name => ({
    type: "Feature",
    properties: {name: name, score: scoreOf.get(name)},
    geometry: {type: "MultiPolygon", coordinates: outlines[name].map(ring => [ring.concat([ring[0]])])}
}));

// no data first so the coloured borders stay on top
svg.append("g").selectAll("path")
    .data(features.filter(d => d.properties.score === undefined))
    .enter().append("path")
    .attr("d", path)
    .attr("fill", "url(#no-data)")
    .attr("stroke", "#d2d2d2")
    .attr("stroke-width", 0.6);

svg.append("g").selectAll("path")
    .data(features.filter(d => d.properties.score !== undefined))
    .enter().append("path")
    .attr("d", path)
    .attr("fill", d => color(d.properties.score))
    .attr("stroke", "#5f6f64")
    .attr("stroke-width", 0.35);

// header
svg.append("text").attr("x", 16).attr("y", 37)
    .style("font-family", "'Liberation Serif', serif")
    .style("font-weight", 700).style("font-size", "25px").attr("fill", "#373737")
    .attr("textLength", 667).attr("lengthAdjust", "spacingAndGlyphs")
    .text(titleText);
svg.append("text").attr("x", 689).attr("y", 37)
    .style("font-size", "18px").style("font-weight", 500).attr("fill", "#6e6e6e").text(yearText);

svg.append("g").selectAll("text").data(subtitleLines).enter().append("text")
    .attr("x", 16).attr("y", (d, i) => 64 + i * 18)
    .style("font-size", "15px").attr("fill", "#5b5b5b")
    .text(d => d);

// logo
const logo = svg.append("g");
logo.append("rect").attr("x", 770).attr("y", 16).attr("width", 64).attr("height", 36).attr("fill", "#002147");
logo.append("rect").attr("x", 770).attr("y", 49.5).attr("width", 64).attr("height", 2.5).attr("fill", "#ce261e");
const logoText = logo.append("text").attr("text-anchor", "middle").attr("fill", "#fff")
    .style("font-size", "12px").style("font-weight", 700);
logoText.append("tspan").attr("x", 802).attr("y", 31).text("Our World");
logoText.append("tspan").attr("x", 802).attr("y", 43).text("in Data");

// legend
const legendY = 537, legendH = 11;
const legendX = d3.scaleLinear().domain([0, 1]).range([312.5, 605.5]);
const legend = svg.append("g");

legend.selectAll("rect.bin").data(binColors).enter().append("rect")
    .attr("class", "bin")
    .attr("x", (d, i) => legendX(binEdges[i]))
    .attr("y", legendY)
    .attr("width", (d, i) => legendX(binEdges[i + 1]) - legendX(binEdges[i]))
    .attr("height", legendH)
    .attr("fill", d => d)
    .attr("stroke", "#9a9a9a").attr("stroke-width", 0.4);

const legendAxis = d3.axisTop(legendX).tickValues(binEdges).tickSize(3).tickPadding(4)
    .tickFormat(d3.format("~g"));
const axisG = legend.append("g").attr("transform", "translate(0," + legendY + ")").call(legendAxis);
axisG.select(".domain").remove();
axisG.selectAll("line").attr("stroke", "#aaa");
axisG.selectAll("text").style("font-family", "Lato, sans-serif").style("font-size", "13px").attr("fill", "#5b5b5b");

legend.append("rect").attr("x", 244.5).attr("y", legendY).attr("width", 48).attr("height", legendH)
    .attr("fill", "url(#no-data)").attr("stroke", "#bbb").attr("stroke-width", 0.4);
legend.append("line").attr("x1", 268.5).attr("x2", 268.5).attr("y1", legendY - 3).attr("y2", legendY).attr("stroke", "#aaa");
legend.append("text").attr("x", 268.5).attr("y", 530).attr("text-anchor", "middle")
    .style("font-size", "13px").attr("fill", "#5b5b5b").text("No data");

// footer
const source = svg.append("text").attr("x", 16).attr("y", 581).style("font-size", "13px").attr("fill", "#5b5b5b");
source.append("tspan").style("font-weight", 700).text("Data source: ");
source.append("tspan").text("UN Office for Disaster Risk Reduction");
svg.append("text").attr("x", 832).attr("y", 581).attr("text-anchor", "end")
    .style("font-size", "13px").attr("fill", "#5b5b5b")
    .text("OurWorldinData.org/natural-disasters | CC BY");
</script>
</body>
</html>
